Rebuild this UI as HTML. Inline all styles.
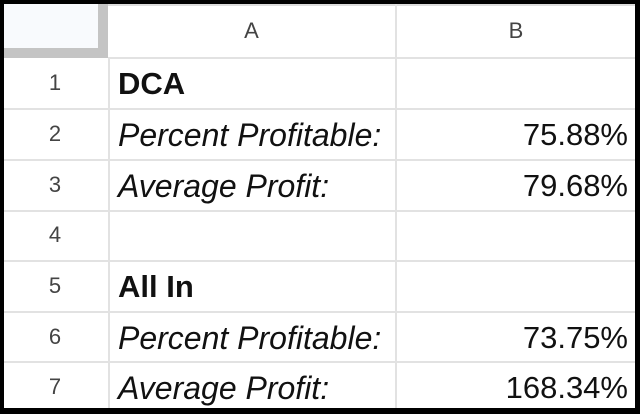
<!DOCTYPE html>
<html><head><style>
body{margin:0;width:640px;height:414px;background:#fff;position:relative;overflow:hidden;font-family:"Liberation Sans",Arial,sans-serif;}
.b{position:absolute;}
.h{position:absolute;background:#e2e2e2;height:2px;}
.v{position:absolute;background:#e2e2e2;width:2px;}
.t{position:absolute;font-size:31px;color:#111;line-height:50px;}
.n{position:absolute;font-size:22px;color:#444;width:100px;text-align:center;line-height:50px;left:5px;}
</style></head><body>
<div class="b" style="left:0;top:0;width:640px;height:414px;box-sizing:border-box;border:4px solid #000;border-right-width:5px;border-bottom-width:6px;"></div>
<div class="b" style="left:4px;top:4px;width:104px;height:54px;background:#c4c4c4"></div>
<div class="b" style="left:4px;top:4px;width:94px;height:44px;background:#f8fafd"></div>
<div class="b" style="left:108px;top:4px;width:527px;height:2px;background:#ddd"></div>
<div class="v" style="left:108px;top:58px;height:350px"></div>
<div class="v" style="left:395px;top:4px;height:404px"></div>
<div class="h" style="left:108px;top:57px;width:527px"></div>
<div class="h" style="left:4px;top:108px;width:631px"></div>
<div class="h" style="left:4px;top:159px;width:631px"></div>
<div class="h" style="left:4px;top:210px;width:631px"></div>
<div class="h" style="left:4px;top:260px;width:631px"></div>
<div class="h" style="left:4px;top:311px;width:631px"></div>
<div class="h" style="left:4px;top:361px;width:631px"></div>
<div class="n" style="left:108px;width:287px;top:6px;font-size:22px">A</div>
<div class="n" style="left:397px;width:238px;top:6px;font-size:22px">B</div>
<div class="n" style="top:58px">1</div>
<div class="n" style="top:109px">2</div>
<div class="n" style="top:160px">3</div>
<div class="n" style="top:210px">4</div>
<div class="n" style="top:261px">5</div>
<div class="n" style="top:312px">6</div>
<div class="n" style="top:362px">7</div>
<div class="t" style="left:118px;top:59px;font-weight:bold">DCA</div>
<div class="t" style="left:118px;top:110px;font-style:italic;font-size:32px">Percent Profitable:</div>
<div class="t" style="left:118px;top:161px;font-style:italic;font-size:32px">Average Profit:</div>
<div class="t" style="left:118px;top:262px;font-weight:bold">All In</div>
<div class="t" style="left:118px;top:313px;font-style:italic;font-size:32px">Percent Profitable:</div>
<div class="t" style="left:118px;top:363px;font-style:italic;font-size:32px">Average Profit:</div>
<div class="t" style="right:12px;top:110px">75.88%</div>
<div class="t" style="right:12px;top:161px">79.68%</div>
<div class="t" style="right:12px;top:313px">73.75%</div>
<div class="t" style="right:12px;top:363px">168.34%</div>
</body></html>
